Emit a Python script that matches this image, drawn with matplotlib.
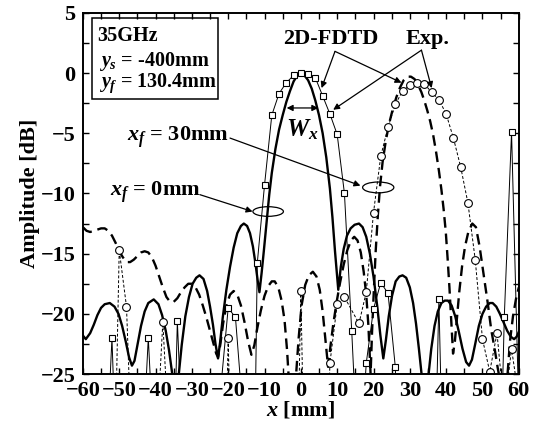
import matplotlib
matplotlib.use('Agg')
import matplotlib.pyplot as plt
from matplotlib.patches import Ellipse, Rectangle

plt.rcParams['font.family'] = 'Liberation Serif'
plt.rcParams['font.weight'] = 'bold'
plt.rcParams['axes.labelweight'] = 'bold'
plt.rcParams['mathtext.fontset'] = 'custom'
plt.rcParams['mathtext.rm'] = 'Liberation Serif:bold'
plt.rcParams['mathtext.it'] = 'Liberation Serif:italic:bold'
plt.rcParams['mathtext.bf'] = 'Liberation Serif:bold'

# 2D-FDTD, x_f = 0mm (thick solid)
fdtd0_x = [-60, -59.2, -58, -57, -56, -55, -54, -52.6, -51.3, -50.2, -49.2, -48.2, -47.3, -46.5,
           -45.8, -45, -44, -43, -42, -40.5, -39.2, -38.2, -37.2, -36.3, -35.4, -34.5, -33.6,
           -32.8, -31.8, -30.8, -29.8, -28.8, -27.9, -26.8, -25.8, -25.0, -24.2, -23.5, -22.8,
           -22.2, -21.5, -20.5, -19.5, -18.5, -17.5, -16.5, -15.7, -14.8, -14.0, -13.2, -12.5,
           -11.9, -11.4, -10.8, -10.2, -9.5, -8.7, -8.0, -7.0, -6.0, -5.0, -4.0, -3.0, -2.0,
           -1.0, 0.0, 1.0, 2.0, 3.0, 4.0, 5.0, 6.0, 7.0, 8.0, 8.7, 9.4, 10.3, 11.0, 11.8, 12.7,
           13.7, 14.8, 16.0, 17.0, 18.0, 19.0, 20.0, 21.0, 21.9, 22.7, 23.4, 24.2, 25.1, 26.1,
           27.1, 28.0, 29.0, 30.0, 30.9, 31.7, 32.5, 33.3, 34.2, 35.1, 35.9, 36.8, 37.7, 38.7,
           39.6, 40.5, 41.5, 42.5, 43.5, 44.5, 45.5, 46.3, 47.1, 48.0, 49.0, 50.0, 51.0, 52.0,
           52.8, 53.8, 54.8, 55.8, 56.8, 57.8, 58.7, 59.4, 60.0]
fdtd0_y = [-21.8, -22.1, -21.6, -20.9, -20.1, -19.5, -19.2, -19.1, -19.4, -20.0, -21.0, -22.3, -23.6, -24.3,
           -23.9, -22.6, -21.0, -19.8, -19.1, -18.8, -19.2, -20.1, -21.4, -23.0, -25.0, -27.0, -25.0,
           -22.6, -20.2, -18.6, -17.5, -17.0, -16.8, -17.1, -18.1, -19.4, -20.9, -22.5, -23.7,
           -22.3, -20.3, -18.0, -16.1, -14.5, -13.3, -12.7, -12.5, -12.7, -13.3, -14.4, -15.8,
           -17.2, -18.2, -16.6, -14.8, -12.6, -10.1, -8.3, -6.3, -4.7, -3.5, -2.4, -1.5, -0.7,
           -0.2, 0.0, -0.2, -0.6, -1.3, -2.3, -3.5, -5.0, -7.0, -9.6, -12.0, -14.8, -18.0, -16.1, -14.6, -13.5,
           -12.9, -12.6, -12.5, -12.8, -13.6, -15.0, -16.9, -19.3, -21.8, -23.7, -22.2, -20.2, -18.5, -17.3,
           -16.9, -16.8, -17.0, -17.8, -19.1, -20.8, -22.9, -25.2, -27.0, -25.2, -22.9, -21.0, -19.8, -19.1,
           -18.9, -18.9, -19.3, -20.2, -21.5, -22.9, -24.0, -24.3, -23.8, -22.5, -21.0, -20.0, -19.4, -19.1,
           -19.1, -19.4, -20.0, -20.7, -21.4, -21.9, -22.1, -21.9, -21.5]

# 2D-FDTD, x_f = 30mm (thick dashed)
fdtd30_x = [-60, -59, -58, -57, -56, -55, -54, -53, -52, -51, -50, -49, -48, -47, -46, -45, -44, -43,
            -42, -41, -40, -39, -38, -37, -36, -35, -34, -33, -32, -31, -30, -29, -28, -27, -26, -25,
            -24, -23.3, -22.8, -22.2, -21.4, -20.5, -19.5, -18.5, -17.5, -16.5, -15.5, -14.5, -13.6,
            -12.8, -12.0, -11.0, -10.0, -9.0, -8.0, -7.2, -6.2, -5.3, -4.5, -3.8, -3.1, -2.2, -1.3,
            -0.6, 0.2, 1.2, 2.2, 3.3, 4.3, 5.2, 6.0, 6.8, 7.5, 8.1, 8.9, 9.8, 10.8, 11.8, 12.8, 13.8,
            14.7, 15.6, 16.5, 17.3, 18.0, 18.6, 19.2, 19.6, 20.1, 20.6, 21.2, 21.8, 22.5, 23.4, 24.3,
            25.3, 26.3, 27.3, 28.3, 29.3, 30.3, 31.3, 32.3, 33.2, 34.0, 34.8, 35.6, 36.4, 37.2, 38.0,
            38.7, 39.3, 39.9, 40.4, 40.9, 41.4, 41.9, 42.4, 42.9, 43.6, 44.4, 45.2, 46.1, 47.2, 48.2,
            49.2, 50.3, 51.4, 52.4, 53.4, 54.2, 54.8, 55.8, 56.9, 57.6, 58.4, 59.2, 60.0]
fdtd30_y = [-12.8, -13.1, -13.2, -13.1, -13.0, -12.9, -12.9, -13.1, -13.5, -14.1, -14.8, -15.3, -15.7, -15.7,
            -15.5, -15.2, -14.9, -14.8, -14.9, -15.3, -16.0, -16.9, -17.8, -18.6, -19.0, -19.0, -18.7,
            -18.2, -17.8, -17.5, -17.5, -17.8, -18.4, -19.3, -20.3, -21.4, -22.5, -23.3, -23.6, -22.6,
            -20.8, -19.3, -18.4, -18.1, -18.4, -19.3, -20.7, -22.3, -23.4, -22.6, -21.2, -19.7, -18.5,
            -17.7, -17.3, -17.3, -17.8, -18.9, -20.5, -23.0, -26.5, -27.5, -25.0, -22.0, -19.3, -17.6,
            -16.8, -16.5, -16.9, -18.0, -19.8, -22.3, -24.4, -22.8, -20.9, -19.1, -17.4, -15.9, -14.7,
            -13.9, -13.6, -13.9, -14.9, -16.5, -18.4, -21.0, -25.0, -21.5, -18.0, -14.8, -11.8, -9.4,
            -7.4, -5.6, -4.2, -3.0, -2.0, -1.2, -0.6, -0.3, -0.3, -0.5, -1.0, -1.6, -2.3, -3.1, -4.0,
            -5.1, -6.5, -8.1, -9.7, -11.3, -13.2, -15.4, -17.8, -20.6, -23.3, -22.3, -20.6, -18.2,
            -16.0, -14.4, -13.2, -12.5, -12.8, -14.4, -16.7, -19.0, -21.3, -23.0, -24.5, -25.5, -28.0,
            -25.0, -22.2, -20.2, -18.8, -17.8]

# Exp., x_f = 0mm (squares); values under -25 dB fall off the axis
exp0_x = list(range(-60, 61, 2))
exp0_y = [-45, -45, -45, -35, -22.0, -40, -45, -45, -34, -22.0, -34, -45, -45, -20.6, -35, -45,
          -45, -45, -40, -26, -19.5, -20.3, -28, -60, -15.8, -9.3, -3.5, -1.7, -0.8, -0.2, 0.0,
          -0.1, -0.4, -1.9, -3.4, -5.1, -10.0, -21.4, -34, -24.1, -19.6, -17.4, -18.3, -24.4, -45,
          -45, -45, -45, -45, -18.8, -45, -45, -45, -45, -45, -45, -45, -45, -20.3, -4.9, -28]

# Exp., x_f = 30mm (circles)
exp30_x = [-60, -58, -56, -54, -52, -50, -48, -46, -44, -42, -40, -38, -36, -34, -32, -30, -28,
           -26, -24, -22, -20, -18, -16, -14, -12, -10, -8, -6, -4, -2, 0, 2, 4, 6, 8, 10, 12, 16,
           18, 20, 22, 24, 26, 28, 30, 32, 34, 36, 38, 40, 42, 44, 46, 48, 50, 52, 54, 56, 58, 60]
exp30_y = [-45, -45, -45, -45, -44, -14.7, -19.4, -36, -45, -45, -32, -20.7, -32, -45, -45, -45,
           -45, -45, -45, -50, -22.0, -50, -45, -45, -45, -45, -45, -45, -45, -50, -18.1, -50, -45,
           -45, -24.1, -19.2, -18.6, -20.8, -18.2, -11.6, -6.9, -4.5, -2.6, -1.5, -1.0, -0.8, -0.9,
           -1.6, -2.2, -3.4, -5.4, -7.8, -10.8, -15.5, -22.1, -24.8, -21.6, -28, -22.9, -27]

x_ticks = list(range(-60, 61, 10))
y_ticks = list(range(-25, 6, 5))

fig = plt.figure(figsize=(5.49, 4.28), dpi=100)
ax = fig.add_axes([0.151, 0.126, 0.794, 0.844])

ax.plot(fdtd0_x, fdtd0_y, color='black', lw=1.7, solid_joinstyle='round')
ax.plot(fdtd30_x, fdtd30_y, color='black', lw=1.7, dashes=(4.5, 2.5))
ax.plot(exp0_x, exp0_y, color='black', lw=0.7, marker='s', markersize=4.3,
        mfc='white', mec='black', mew=0.8)
ax.plot(exp30_x, exp30_y, color='black', lw=0.7, ls=(0, (3, 2)), marker='o', markersize=5.6,
        mfc='white', mec='black', mew=0.8)

ax.set_xlim(-60, 60)
ax.set_ylim(-25, 5)
ax.set_xticks(x_ticks)
ax.set_yticks(y_ticks)
ax.set_xticks(range(-55, 60, 10), minor=True)
ax.set_yticks([-22.5, -17.5, -12.5, -7.5, -2.5, 2.5], minor=True)
ax.tick_params(which='both', direction='in', top=True, right=True, length=4, width=1.0,
               labelsize=16)
ax.tick_params(axis='x', pad=5)
ax.tick_params(axis='y', pad=5.5)
for lab in ax.get_xticklabels() + ax.get_yticklabels():
    lab.set_fontweight('bold')
for s in ax.spines.values():
    s.set_linewidth(1.4)

ax.set_xlabel('$x$ [mm]', fontsize=16, fontweight='bold', labelpad=-1)
ax.set_ylabel('Amplitude [dB]', fontsize=16, fontweight='bold', labelpad=0)

# info box
ax.add_patch(Rectangle((0.021, 0.762), 0.289, 0.224, transform=ax.transAxes,
                       fill=False, lw=1.1, ec='black'))
ax.text(0.032, 0.935, '35GHz', transform=ax.transAxes, fontsize=14.5, va='center')
ax.text(0.038, 0.866, '$y_s$ = -400mm', transform=ax.transAxes, fontsize=14.5, va='center')
ax.text(0.038, 0.806, '$y_f$ = 130.4mm', transform=ax.transAxes, fontsize=14.5, va='center')

arrow = dict(arrowstyle='-|>', color='black', lw=0.9, mutation_scale=9, shrinkA=0, shrinkB=0)

ax.text(8.3, 2.8, '2D-FDTD', fontsize=16, ha='center', va='center')
ax.annotate('', xy=(5.7, -1.25), xytext=(9.4, 1.8), arrowprops=arrow)
ax.annotate('', xy=(27.7, -0.8), xytext=(9.4, 1.8), arrowprops=arrow)

ax.text(35.0, 2.8, 'Exp.', fontsize=16, ha='center', va='center')
ax.annotate('', xy=(8.9, -3.05), xytext=(33.2, 1.9), arrowprops=arrow)
ax.annotate('', xy=(36.0, -1.25), xytext=(33.2, 1.9), arrowprops=arrow)

ax.annotate('', xy=(-3.9, -2.9), xytext=(4.8, -2.9),
            arrowprops=dict(arrowstyle='<|-|>', color='black', lw=0.9, mutation_scale=9,
                            shrinkA=0, shrinkB=0))
ax.text(0.5, -4.7, '$W_x$', fontsize=18, ha='center', va='center')

ax.add_patch(Ellipse((-9.0, -11.5), 8.4, 0.8, fill=False, lw=0.9, ec='black'))
ax.add_patch(Ellipse((21.3, -9.5), 8.6, 0.9, fill=False, lw=0.9, ec='black'))

ax.text(-47.9, -5.3, '$x_f$ = 30mm', fontsize=16, ha='left', va='center')
ax.annotate('', xy=(16.4, -9.35), xytext=(-19.5, -5.4), arrowprops=arrow)
ax.text(-52.6, -9.9, '$x_f$ = 0mm', fontsize=16, ha='left', va='center')
ax.annotate('', xy=(-13.3, -11.5), xytext=(-27.8, -10.1), arrowprops=arrow)

fig.savefig('out.png', dpi=100)
